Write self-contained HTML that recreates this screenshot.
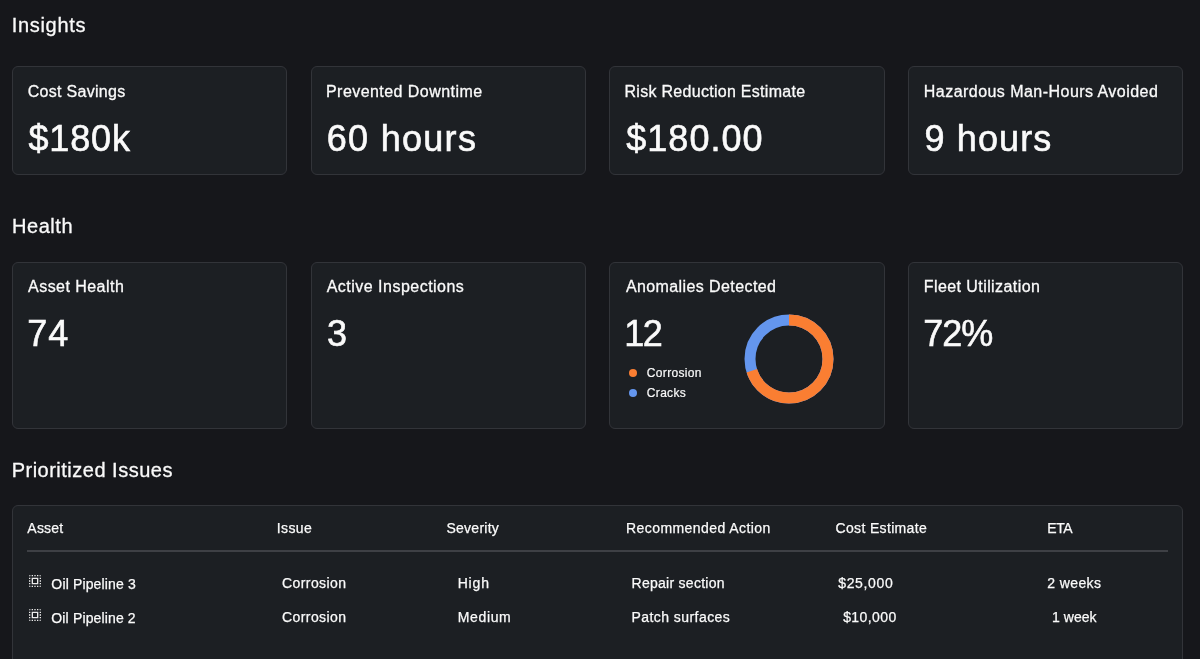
<!DOCTYPE html>
<html>
<head>
<meta charset="utf-8">
<style>
*{box-sizing:border-box;margin:0;padding:0}
html,body{width:1200px;height:659px;overflow:hidden;background:#16171b}
body{position:relative;font-family:"Liberation Sans",sans-serif;color:#fafafa}
.t{position:absolute;white-space:nowrap;line-height:1;-webkit-text-stroke:0.3px currentColor}
#tx{position:absolute;left:0;top:0;width:1200px;height:659px;will-change:transform}
.card{position:absolute;background:#1c1f23;border:1px solid #323439;border-radius:6px}
.dot{position:absolute;width:8px;height:8px;border-radius:50%}
</style>
</head>
<body>
<div class="card" style="left:12px;top:66px;width:275px;height:109px"></div>
<div class="card" style="left:311px;top:66px;width:275px;height:109px"></div>
<div class="card" style="left:609px;top:66px;width:276px;height:109px"></div>
<div class="card" style="left:908px;top:66px;width:275px;height:109px"></div>
<div class="card" style="left:12px;top:262px;width:275px;height:167px"></div>
<div class="card" style="left:311px;top:262px;width:275px;height:167px"></div>
<div class="card" style="left:609px;top:262px;width:276px;height:167px"></div>
<div class="card" style="left:908px;top:262px;width:275px;height:167px"></div>
<div class="card" style="left:12px;top:505px;width:1171px;height:220px"></div>
<div style="position:absolute;left:27px;top:550px;width:1141px;height:2px;background:#3e4045"></div>
<div class="dot" style="left:629px;top:369px;background:#fa7e32"></div>
<div class="dot" style="left:629px;top:389px;background:#6496ee"></div>
<svg style="position:absolute;left:742.7px;top:313px" width="92" height="92" viewBox="0 0 92 92">
<circle cx="46" cy="46" r="39" fill="none" stroke="#6496ee" stroke-width="11"/>
<circle cx="46" cy="46" r="39" fill="none" stroke="#fa7e32" stroke-width="11" stroke-dasharray="171.53 1000" transform="rotate(-90 46 46)"/>
</svg>
<svg style="position:absolute;left:27px;top:573px" width="16" height="16" viewBox="0 0 24 24" fill="#ececec"><path d="M3 5h2V3c-1.1 0-2 .9-2 2zm0 8h2v-2H3v2zm4 8h2v-2H7v2zM3 9h2V7H3v2zm10-6h-2v2h2V3zm6 0v2h2c0-1.1-.9-2-2-2zM5 21v-2H3c0 1.1.9 2 2 2zm-2-4h2v-2H3v2zM9 3H7v2h2V3zm2 18h2v-2h-2v2zm8-8h2v-2h-2v2zm0 8c1.1 0 2-.9 2-2h-2v2zm0-12h2V7h-2v2zm0 8h2v-2h-2v2zm-4 4h2v-2h-2v2zm0-16h2V3h-2v2zM7 17h10V7H7v10zm2-8h6v6H9V9z"/></svg>
<svg style="position:absolute;left:27px;top:607px" width="16" height="16" viewBox="0 0 24 24" fill="#ececec"><path d="M3 5h2V3c-1.1 0-2 .9-2 2zm0 8h2v-2H3v2zm4 8h2v-2H7v2zM3 9h2V7H3v2zm10-6h-2v2h2V3zm6 0v2h2c0-1.1-.9-2-2-2zM5 21v-2H3c0 1.1.9 2 2 2zm-2-4h2v-2H3v2zM9 3H7v2h2V3zm2 18h2v-2h-2v2zm8-8h2v-2h-2v2zm0 8c1.1 0 2-.9 2-2h-2v2zm0-12h2V7h-2v2zm0 8h2v-2h-2v2zm-4 4h2v-2h-2v2zm0-16h2V3h-2v2zM7 17h10V7H7v10zm2-8h6v6H9V9z"/></svg>
<div id="tx">
<div class="t" style="left:11.65px;top:15.20px;font-size:20px;letter-spacing:0.700px;-webkit-text-stroke-width:0.3px;color:#fafafa">Insights</div>
<div class="t" style="left:12.00px;top:215.90px;font-size:20px;letter-spacing:0.540px;-webkit-text-stroke-width:0.3px;color:#fafafa">Health</div>
<div class="t" style="left:11.65px;top:459.80px;font-size:20px;letter-spacing:0.500px;-webkit-text-stroke-width:0.3px;color:#fafafa">Prioritized Issues</div>
<div class="t" style="left:27.70px;top:83.90px;font-size:16px;letter-spacing:0.302px;-webkit-text-stroke-width:0.3px;color:#fafafa">Cost Savings</div>
<div class="t" style="left:326.00px;top:83.90px;font-size:16px;letter-spacing:0.445px;-webkit-text-stroke-width:0.3px;color:#fafafa">Prevented Downtime</div>
<div class="t" style="left:624.50px;top:83.90px;font-size:16px;letter-spacing:0.287px;-webkit-text-stroke-width:0.3px;color:#fafafa">Risk Reduction Estimate</div>
<div class="t" style="left:923.84px;top:83.90px;font-size:16px;letter-spacing:0.458px;-webkit-text-stroke-width:0.3px;color:#fafafa">Hazardous Man-Hours Avoided</div>
<div class="t" style="left:28.40px;top:120.50px;font-size:36px;letter-spacing:0.880px;-webkit-text-stroke-width:0.6px;color:#fafafa">$180k</div>
<div class="t" style="left:326.70px;top:120.50px;font-size:36px;letter-spacing:1.300px;-webkit-text-stroke-width:0.6px;color:#fafafa">60 hours</div>
<div class="t" style="left:626.25px;top:120.50px;font-size:36px;letter-spacing:1.033px;-webkit-text-stroke-width:0.6px;color:#fafafa">$180.00</div>
<div class="t" style="left:924.40px;top:120.50px;font-size:36px;letter-spacing:1.150px;-webkit-text-stroke-width:0.6px;color:#fafafa">9 hours</div>
<div class="t" style="left:28.05px;top:279.00px;font-size:16px;letter-spacing:0.456px;-webkit-text-stroke-width:0.3px;color:#fafafa">Asset Health</div>
<div class="t" style="left:326.70px;top:279.00px;font-size:16px;letter-spacing:0.484px;-webkit-text-stroke-width:0.3px;color:#fafafa">Active Inspections</div>
<div class="t" style="left:625.90px;top:279.00px;font-size:16px;letter-spacing:0.404px;-webkit-text-stroke-width:0.3px;color:#fafafa">Anomalies Detected</div>
<div class="t" style="left:923.70px;top:279.00px;font-size:16px;letter-spacing:0.431px;-webkit-text-stroke-width:0.3px;color:#fafafa">Fleet Utilization</div>
<div class="t" style="left:27.35px;top:316.00px;font-size:36px;letter-spacing:0.800px;-webkit-text-stroke-width:0.6px;color:#fafafa">74</div>
<div class="t" style="left:327.05px;top:316.00px;font-size:36px;letter-spacing:0.800px;-webkit-text-stroke-width:0.6px;color:#fafafa">3</div>
<div class="t" style="left:624.15px;top:316.00px;font-size:36px;letter-spacing:-1.300px;-webkit-text-stroke-width:0.6px;color:#fafafa">12</div>
<div class="t" style="left:923.35px;top:316.00px;font-size:36px;letter-spacing:-1.125px;-webkit-text-stroke-width:0.6px;color:#fafafa">72%</div>
<div class="t" style="left:646.86px;top:367.10px;font-size:12px;letter-spacing:0.312px;-webkit-text-stroke-width:0.2px;color:#fafafa">Corrosion</div>
<div class="t" style="left:646.86px;top:387.00px;font-size:12px;letter-spacing:0.305px;-webkit-text-stroke-width:0.2px;color:#fafafa">Cracks</div>
<div class="t" style="left:27.35px;top:520.90px;font-size:14px;letter-spacing:0.210px;-webkit-text-stroke-width:0.25px;color:#fafafa">Asset</div>
<div class="t" style="left:276.65px;top:520.90px;font-size:14px;letter-spacing:0.425px;-webkit-text-stroke-width:0.25px;color:#fafafa">Issue</div>
<div class="t" style="left:446.50px;top:520.90px;font-size:14px;letter-spacing:0.250px;-webkit-text-stroke-width:0.25px;color:#fafafa">Severity</div>
<div class="t" style="left:626.00px;top:520.90px;font-size:14px;letter-spacing:0.428px;-webkit-text-stroke-width:0.25px;color:#fafafa">Recommended Action</div>
<div class="t" style="left:835.50px;top:520.90px;font-size:14px;letter-spacing:0.341px;-webkit-text-stroke-width:0.25px;color:#fafafa">Cost Estimate</div>
<div class="t" style="left:1047.35px;top:520.90px;font-size:14px;letter-spacing:-0.450px;-webkit-text-stroke-width:0.25px;color:#fafafa">ETA</div>
<div class="t" style="left:51.35px;top:577.00px;font-size:14px;letter-spacing:0.142px;-webkit-text-stroke-width:0.25px;color:#fafafa">Oil Pipeline 3</div>
<div class="t" style="left:282.00px;top:575.80px;font-size:14px;letter-spacing:0.422px;-webkit-text-stroke-width:0.25px;color:#fafafa">Corrosion</div>
<div class="t" style="left:457.65px;top:575.80px;font-size:14px;letter-spacing:0.834px;-webkit-text-stroke-width:0.25px;color:#fafafa">High</div>
<div class="t" style="left:631.50px;top:575.80px;font-size:14px;letter-spacing:0.277px;-webkit-text-stroke-width:0.25px;color:#fafafa">Repair section</div>
<div class="t" style="left:838.20px;top:575.80px;font-size:14px;letter-spacing:0.657px;-webkit-text-stroke-width:0.25px;color:#fafafa">$25,000</div>
<div class="t" style="left:1047.35px;top:575.80px;font-size:14px;letter-spacing:0.367px;-webkit-text-stroke-width:0.25px;color:#fafafa">2 weeks</div>
<div class="t" style="left:51.35px;top:610.80px;font-size:14px;letter-spacing:0.139px;-webkit-text-stroke-width:0.25px;color:#fafafa">Oil Pipeline 2</div>
<div class="t" style="left:282.00px;top:610.20px;font-size:14px;letter-spacing:0.422px;-webkit-text-stroke-width:0.25px;color:#fafafa">Corrosion</div>
<div class="t" style="left:457.65px;top:610.20px;font-size:14px;letter-spacing:0.670px;-webkit-text-stroke-width:0.25px;color:#fafafa">Medium</div>
<div class="t" style="left:631.50px;top:610.20px;font-size:14px;letter-spacing:0.439px;-webkit-text-stroke-width:0.25px;color:#fafafa">Patch surfaces</div>
<div class="t" style="left:843.20px;top:610.20px;font-size:14px;letter-spacing:0.396px;-webkit-text-stroke-width:0.25px;color:#fafafa">$10,000</div>
<div class="t" style="left:1052.00px;top:610.20px;font-size:14px;letter-spacing:0.040px;-webkit-text-stroke-width:0.25px;color:#fafafa">1 week</div>
</div>
</body>
</html>
